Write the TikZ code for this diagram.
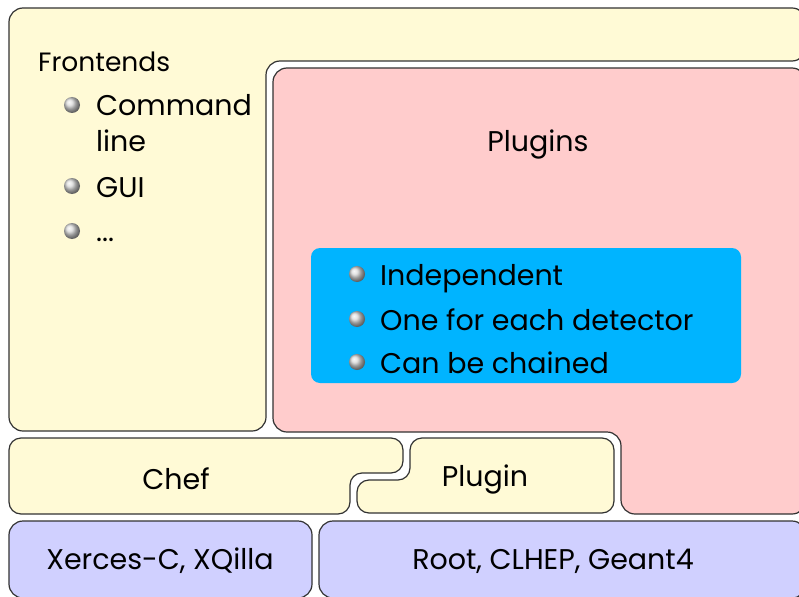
\documentclass[tikz,border=0pt]{standalone}
\usepackage{fontspec}
\setmainfont{Poppins}
\usepackage{tikz}
\usetikzlibrary{positioning, shadings}
\definecolor{frontfill}{RGB}{255, 250, 214}
\definecolor{plugfill}{RGB}{255, 204, 204}
\definecolor{featfill}{RGB}{0, 180, 255}
\definecolor{basefill}{RGB}{208, 208, 255}
\definecolor{edge}{RGB}{50, 50, 50}
\tikzstyle{block} = [draw=edge, line width=1.2pt, rounded corners=14pt]
\tikzstyle{heading} = [inner sep=0pt, font=\fontsize{26.5}{30}\selectfont]
\tikzstyle{itemtext} = [inner sep=0pt, anchor=base west, font=\fontsize{28.5}{32}\selectfont]
\tikzstyle{boxtext} = [inner sep=0pt, anchor=base, font=\fontsize{28.5}{32}\selectfont]
\tikzstyle{bulletball} = [circle, inner sep=0pt, minimum size=16pt, shading=ball, ball color=gray!30]

\begin{document}
\begin{tikzpicture}[x=1pt, y=-1pt]
    \useasboundingbox (0,0) rectangle (799,596);

    % Frontends layer
    \path[block, fill=frontfill] (9,8) -- (806,8) -- (806,61) -- (266,61) -- (266,431) -- (9,431) -- cycle;
    \node[heading, anchor=base west] (frontends) at (38,72) {Frontends};
    \node[bulletball] (fb1) at (72,105) {};
    \node[bulletball] (fb2) at (72,186) {};
    \node[bulletball] (fb3) at (72,231) {};
    \node[itemtext] (cmd) at (96,116) {Command};
    \node[itemtext] (cmdline) at (96,151) {line};
    \node[itemtext] (gui) at (96,197) {GUI};
    \node[itemtext] (dots) at (96,241) {...};

    % Plugins layer
    \path[block, fill=plugfill] (273,68) -- (806,68) -- (806,514) -- (621,514) -- (621,432) -- (273,432) -- cycle;
    \node[boxtext] (plugins) at (538,152) {Plugins};

    % Features of the plugins
    \path[fill=featfill, rounded corners=9pt] (311,248) rectangle (741,383);
    \node[bulletball] (pb1) at (357,274) {};
    \node[bulletball] (pb2) at (357,319) {};
    \node[bulletball] (pb3) at (357,362) {};
    \node[itemtext] (indep) at (380,285) {Independent};
    \node[itemtext] (onefor) at (380,330) {One for each detector};
    \node[itemtext] (chained) at (380,373) {Can be chained};

    % Chef and the plugin interface
    \path[block, rounded corners=12pt, fill=frontfill] (9,438) -- (403,438) -- (403,473) -- (350,473) -- (350,514) -- (9,514) -- cycle;
    \path[block, rounded corners=12pt, fill=frontfill] (410,438) -- (614,438) -- (614,513) -- (357,513) -- (357,480) -- (410,480) -- cycle;
    \node[boxtext] (chef) at (176,489) {Chef};
    \node[boxtext] (plugin) at (485,486) {Plugin};

    % External libraries
    \path[block, fill=basefill] (9,521) rectangle (312,598);
    \path[block, fill=basefill] (319,521) rectangle (806,598);
    \node[boxtext] (xerces) at (160,569) {Xerces-C, XQilla};
    \node[boxtext] (root) at (553,569) {Root, CLHEP, Geant4};
\end{tikzpicture}
\end{document}
